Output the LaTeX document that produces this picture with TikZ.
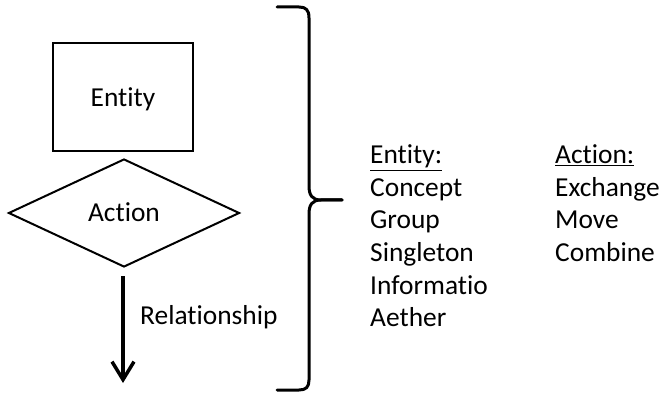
\documentclass[tikz,border=0pt]{standalone}
\usepackage{fontspec}
\setmainfont{Carlito}[Ligatures=NoCommon]
\usetikzlibrary{arrows.meta,shapes.geometric}
\begin{document}
\begin{tikzpicture}[x=1pt,y=-1pt,
  lbl/.style={font=\fontsize{27.4}{32}\selectfont, inner sep=0pt},
  entitybox/.style={draw, line width=2pt, minimum width=140pt, minimum height=108pt, inner sep=0pt},
  actiondiamond/.style={draw, diamond, line width=2pt, aspect=2.15, minimum width=231pt, minimum height=108pt, inner sep=0pt},
  flow/.style={line width=3.8pt, -{Straight Barb[length=18pt,width=22pt,line width=3.5pt]}},
  bracket/.style={line width=3pt, line join=round, line cap=round},
  listitem/.style={lbl, anchor=base west}]
  \useasboundingbox (0,0) rectangle (663,395);

  % flowchart: entity, action, relationship
  \node[entitybox] (entity) at (123,97) {};
  \node[lbl, anchor=base] (entitytxt) at (123,107) {Entity};
  \node[actiondiamond] (action) at (124,213) {};
  \node[lbl, anchor=base] (actiontxt) at (124,222) {Action};
  \coordinate (relstart) at (123,276);
  \coordinate (relend) at (123,383);
  \draw[flow] (relstart) -- (relend);
  \node[listitem] (rel) at (140,324) {Relationship};

  % curly brace
  \coordinate (btop) at (277,7);
  \coordinate (btip) at (342,200);
  \coordinate (bbot) at (277,390);
  \draw[bracket] (btop) -- (299,7) .. controls (306,7) and (309,10) .. (309,18)
    -- (309,186) .. controls (309,195) and (312,200) .. (321,200) -- (btip);
  \draw[bracket] (btip) -- (321,200) .. controls (312,200) and (309,205) .. (309,214)
    -- (309,380) .. controls (309,387) and (306,390) .. (299,390) -- (bbot);

  % entity list
  \node[listitem] (ehead) at (370,164) {\underline{Entity:}};
  \node[listitem] (e1) at (370,196.5) {Concept};
  \node[listitem] (e2) at (370,229) {Group};
  \node[listitem] (e3) at (370,261.5) {Singleton};
  \node[listitem] (e4) at (370,294) {Informatio};
  \node[listitem] (e5) at (370,326.5) {Aether};

  % action list
  \node[listitem] (ahead) at (555,164) {\underline{Action:}};
  \node[listitem] (a1) at (555,196.5) {Exchange};
  \node[listitem] (a2) at (555,229) {Move};
  \node[listitem] (a3) at (555,261.5) {Combine};
\end{tikzpicture}
\end{document}
